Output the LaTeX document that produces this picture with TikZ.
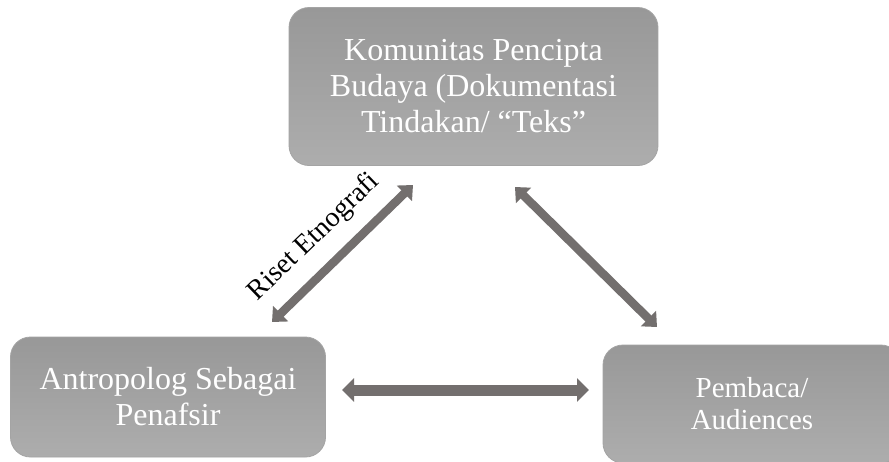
\documentclass[tikz,border=0pt]{standalone}
\usepackage{fontspec}
\setmainfont{Liberation Serif}
\usetikzlibrary{arrows.meta}
\definecolor{arrowgray}{HTML}{736F6E}
\definecolor{boxtop}{HTML}{989898}
\definecolor{boxbot}{HTML}{ADADAD}
\definecolor{boxedge}{HTML}{A4A4A4}
\begin{document}
\begin{tikzpicture}[x=1pt,y=-1pt,
  box/.style={rectangle, rounded corners=20pt, top color=boxtop, bottom color=boxbot,
    draw=boxedge, line width=0.8pt, text=white, align=center, inner sep=0pt},
  bigtext/.style={font=\fontsize{32}{36}\selectfont},
  smalltext/.style={font=\fontsize{29}{32}\selectfont},
  dbl/.style={draw=arrowgray, line width=8.5pt,
    {Triangle[width=21pt,length=12pt,fill=arrowgray]}-{Triangle[width=21pt,length=12pt,fill=arrowgray]}},
  dblh/.style={draw=arrowgray, line width=11pt,
    {Triangle[width=23pt,length=12pt,fill=arrowgray]}-{Triangle[width=23pt,length=12pt,fill=arrowgray]}},
  lbl/.style={font=\fontsize{28}{32}\selectfont, text=black, inner sep=0pt}]
\clip (0,0) rectangle (889,461);
\fill[white] (0,0) rectangle (889,461);
% boxes
\node[box, bigtext, minimum width=369pt, minimum height=158pt] (top) at (473.5,86.5)
  {Komunitas Pencipta\\Budaya (Dokumentasi\\Tindakan/ “Teks”};
\node[box, bigtext, minimum width=315pt, minimum height=120pt] (left) at (168,397)
  {Antropolog Sebagai\\Penafsir};
\node[box, smalltext, minimum width=298pt, minimum height=118pt] (right) at (752,404)
  {Pembaca/\\Audiences};
% arrow end points
\coordinate (aL) at (272,322);
\coordinate (aT) at (413,185);
\coordinate (bT) at (515,187);
\coordinate (bR) at (657,327);
\coordinate (cL) at (342,390);
\coordinate (cR) at (589,390);
% arrows
\draw[dbl] (aL) -- (aT);
\draw[dbl] (bT) -- (bR);
\draw[dblh] (cL) -- (cR);
% label
\node[lbl, rotate=44, anchor=base] (riset) at (319,242) {Riset Etnografi};
\end{tikzpicture}
\end{document}
